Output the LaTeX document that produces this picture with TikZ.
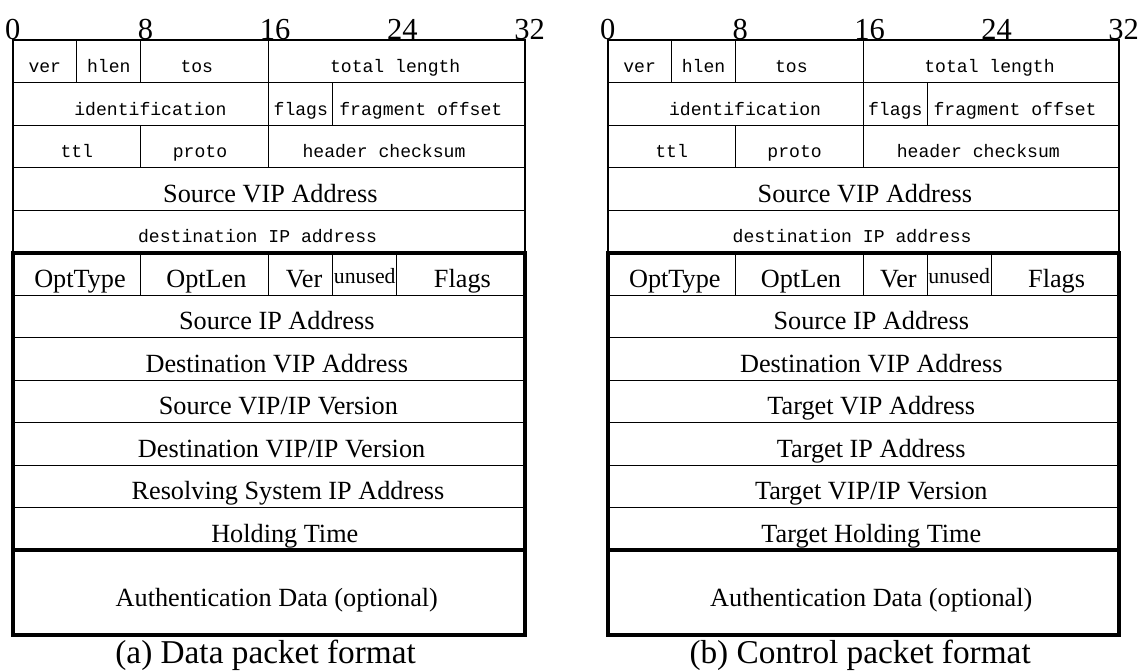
\documentclass[tikz,border=0pt]{standalone}
\usepackage{fontspec}
\setmainfont{Liberation Serif}
\setmonofont{Liberation Mono}

% Common part of both packet layouts: IP header, option word, frames.
% Inside a scope whose x unit is one bit; y runs downwards in points.
\newcommand\ipheader[1]{%
  % horizontal separators
  \foreach \i in {1,2,3,4,6,7,8,9,10,11}
    \draw[gridline] (0,{40+42.5*\i}) -- (32,{40+42.5*\i});
  % field borders
  \foreach \b in {4,8,16} \draw[gridline] (\b,40) -- (\b,82.5);
  \foreach \b in {16,20} \draw[gridline] (\b,82.5) -- (\b,125);
  \foreach \b in {8,16} \draw[gridline] (\b,125) -- (\b,167.5);
  \foreach \b in {8,16,20,24} \draw[gridline] (\b,252.5) -- (\b,295);
  % frames
  \draw[frame] (0,40) rectangle (32,252.5);
  \draw[heavy] (0,252.5) rectangle (32,550);
  \draw[heavy] (0,550) rectangle (32,635);
  % bit scale
  \node[bitlabel] (#1-b0)  at (0,39) {0};
  \node[bitlabel] (#1-b8)  at (8.3,39) {8};
  \node[bitlabel] (#1-b16) at (16.4,39) {16};
  \node[bitlabel] (#1-b24) at (24.35,39) {24};
  \node[bitlabel] (#1-b32) at (32.3,39) {32};
  % IP header fields
  \node[mono] (#1-ver)   at (2,72.5) {ver};
  \node[mono] (#1-hlen)  at (6,72.5) {hlen};
  \node[mono] (#1-tos)   at (11.5,72.5) {tos};
  \node[mono] (#1-tlen)  at (23.9,72.5) {total length};
  \node[mono] (#1-ident) at (8.6,115) {identification};
  \node[mono] (#1-flg)   at (18,115) {flags};
  \node[mono] (#1-frag)  at (25.5,115) {fragment offset};
  \node[mono] (#1-ttl)   at (4,157.5) {ttl};
  \node[mono] (#1-proto) at (11.7,157.5) {proto};
  \node[mono] (#1-csum)  at (23.2,157.5) {header checksum};
  \node[serif] (#1-svip) at (16.1,202) {Source VIP Address};
  \node[mono] (#1-dip)   at (15.3,242.5) {destination IP address};
  % option word
  \node[serif] (#1-otype) at (4.2,287) {OptType};
  \node[serif] (#1-olen)  at (12.1,287) {OptLen};
  \node[serif] (#1-over)  at (18.2,287) {Ver};
  \node[small] (#1-unused) at (22,283) {unused};
  \node[serif] (#1-oflags) at (28.1,287) {Flags};
  % optional trailer
  \node[serif] (#1-auth) at (16.5,606.5) {Authentication Data (optional)};
}

\begin{document}
\begin{tikzpicture}[x=1pt,y=-1pt,
  gridline/.style={line width=1pt},
  frame/.style={line width=2pt},
  heavy/.style={line width=4pt},
  mono/.style={font=\fontsize{18.1}{21}\ttfamily, anchor=base, inner sep=0pt},
  serif/.style={font=\fontsize{26.25}{30}\selectfont, anchor=base, inner sep=0pt},
  small/.style={font=\fontsize{21.75}{25}\selectfont, anchor=base, inner sep=0pt},
  bitlabel/.style={font=\fontsize{30.5}{34}\selectfont, anchor=base, inner sep=0pt},
  caption/.style={font=\fontsize{33.3}{38}\selectfont, anchor=base, inner sep=0pt}]
\useasboundingbox (0,0) rectangle (1144,670);

% (a) data packet
\begin{scope}[shift={(12.8,0)}, x=16pt]
  \ipheader{a}
  \node[serif] (a-r7)  at (16.5,329.5) {Source IP Address};
  \node[serif] (a-r8)  at (16.5,372)   {Destination VIP Address};
  \node[serif] (a-r9)  at (16.6,414.5) {Source VIP/IP Version};
  \node[serif] (a-r10) at (16.8,457)   {Destination VIP/IP Version};
  \node[serif] (a-r11) at (17.2,499.5) {Resolving System IP Address};
  \node[serif] (a-r12) at (17,542)     {Holding Time};
  \node[caption] (a-cap) at (15.8,663) {(a) Data packet format};
\end{scope}

% (b) control packet
\begin{scope}[shift={(607.7,0)}, x=15.975pt]
  \ipheader{b}
  \node[serif] (b-r7)  at (16.5,329.5) {Source IP Address};
  \node[serif] (b-r8)  at (16.5,372)   {Destination VIP Address};
  \node[serif] (b-r9)  at (16.5,414.5) {Target VIP Address};
  \node[serif] (b-r10) at (16.5,457)   {Target IP Address};
  \node[serif] (b-r11) at (16.5,499.5) {Target VIP/IP Version};
  \node[serif] (b-r12) at (16.5,542)   {Target Holding Time};
  \node[caption] (b-cap) at (15.8,663) {(b) Control packet format};
\end{scope}
\end{tikzpicture}
\end{document}
